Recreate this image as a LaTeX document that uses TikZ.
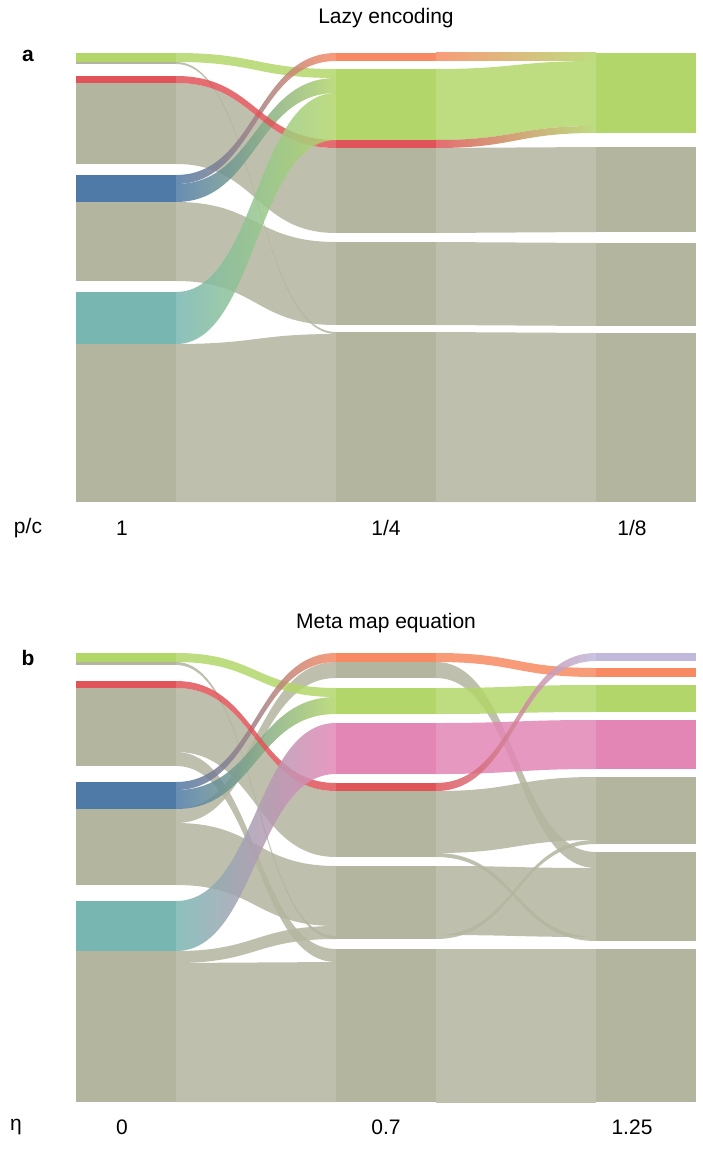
\documentclass[tikz,border=0pt]{standalone}
\usepackage{fontspec}
\setmainfont{Liberation Sans}
\definecolor{gb}{HTML}{B3B59F}
\definecolor{G}{HTML}{B3D66A}
\definecolor{R}{HTML}{E05459}
\definecolor{B}{HTML}{4F79A6}
\definecolor{T}{HTML}{78B6B1}
\definecolor{O}{HTML}{F78A62}
\definecolor{P}{HTML}{E386B5}
\definecolor{L}{HTML}{C0B9DC}
\newcommand\blk[4]{\fill[#4] (#1,#2) rectangle ({#1+100},#3);}
\newcommand\fl[8]{\shade[left color=#7,right color=#8,opacity=.85] (#1,#2) .. controls ({(#1+#4)/2},#2) and ({(#1+#4)/2},#5) .. (#4,#5) -- (#4,#6) .. controls ({(#1+#4)/2},#6) and ({(#1+#4)/2},#3) .. (#1,#3) -- cycle;}
\begin{document}
\begin{tikzpicture}[x=1pt,y=-1pt,lbl/.style={font=\fontsize{21}{25}\selectfont,inner sep=0pt}]
\useasboundingbox (0,0) rectangle (702,1150);
% ---------- panel a
\node[lbl] (ta) at (386,18) {Lazy encoding};
\node[lbl,font=\fontsize{21}{25}\selectfont\bfseries] (la) at (28,56) {a};
\node[lbl] (xa) at (28,528) {p/c};
\node[lbl] (xa1) at (122,528) {1};
\node[lbl] (xa2) at (386,528) {1/4};
\node[lbl] (xa3) at (632,528) {1/8};
\fl{176}{83}{164}{336}{148}{233}{gb}{gb}
\fl{176}{202}{281}{336}{242}{325}{gb}{gb}
\fl{176}{344}{502}{336}{334}{502}{gb}{gb}
\fl{176}{62}{64}{336}{332}{334}{gb}{gb}
\fl{176}{53}{62}{336}{69}{78}{G}{G}
\fl{176}{175}{184}{336}{53}{61}{B}{O}
\fl{176}{184}{202}{336}{78}{93}{B}{G}
\fl{176}{76}{83}{336}{140}{148}{R}{R}
\fl{176}{292}{344}{336}{93}{140}{T}{G}
\fl{436}{148}{233}{596}{147}{232}{gb}{gb}
\fl{436}{242}{325}{596}{243}{326}{gb}{gb}
\fl{436}{332}{502}{596}{333}{502}{gb}{gb}
\fl{436}{53}{61}{596}{53}{61}{O}{G}
\fl{436}{69}{140}{596}{61}{126}{G}{G}
\fl{436}{140}{148}{596}{126}{133}{R}{G}
\blk{76}{53}{62}{G}\blk{76}{62}{64}{gb}\blk{76}{76}{83}{R}\blk{76}{83}{164}{gb}
\blk{76}{175}{202}{B}\blk{76}{202}{281}{gb}\blk{76}{292}{344}{T}\blk{76}{344}{502}{gb}
\blk{336}{53}{61}{O}\blk{336}{69}{140}{G}\blk{336}{140}{148}{R}\blk{336}{148}{233}{gb}
\blk{336}{242}{325}{gb}\blk{336}{332}{502}{gb}
\blk{596}{53}{133}{G}\blk{596}{147}{232}{gb}\blk{596}{243}{326}{gb}\blk{596}{333}{502}{gb}
% ---------- panel b
\node[lbl] (tb) at (386,623) {Meta map equation};
\node[lbl,font=\fontsize{21}{25}\selectfont\bfseries] (lb) at (28,658) {b};
\node[lbl] (xb) at (16,1127) {η};
\node[lbl] (xb1) at (122,1127) {0};
\node[lbl] (xb2) at (386,1127) {0.7};
\node[lbl] (xb3) at (632,1127) {1.25};
\fl{176}{688}{752}{336}{791}{857}{gb}{gb}
\fl{176}{752}{766}{336}{949}{962}{gb}{gb}
\fl{176}{809}{823}{336}{662}{678}{gb}{gb}
\fl{176}{823}{885}{336}{866}{926}{gb}{gb}
\fl{176}{951}{963}{336}{926}{939}{gb}{gb}
\fl{176}{963}{1102}{336}{962}{1102}{gb}{gb}
\fl{176}{662}{665}{336}{936}{939}{gb}{gb}
\fl{176}{653}{662}{336}{688}{697}{G}{G}
\fl{176}{782}{790}{336}{653}{662}{B}{O}
\fl{176}{790}{809}{336}{697}{714}{B}{G}
\fl{176}{681}{688}{336}{783}{791}{R}{R}
\fl{176}{901}{951}{336}{723}{774}{T}{P}
\fl{436}{791}{853}{596}{777}{840}{gb}{gb}
\fl{436}{853}{857}{596}{937}{941}{gb}{gb}
\fl{436}{866}{935}{596}{868}{937}{gb}{gb}
\fl{436}{935}{939}{596}{840}{844}{gb}{gb}
\fl{436}{949}{1102}{596}{949}{1102}{gb}{gb}
\fl{436}{662}{678}{596}{852}{868}{gb}{gb}
\fl{436}{653}{662}{596}{668}{677}{O}{O}
\fl{436}{688}{714}{596}{685}{712}{G}{G}
\fl{436}{723}{774}{596}{720}{769}{P}{P}
\fl{436}{783}{791}{596}{653}{661}{R}{L}
\blk{76}{653}{662}{G}\blk{76}{662}{665}{gb}\blk{76}{681}{688}{R}\blk{76}{688}{766}{gb}
\blk{76}{782}{809}{B}\blk{76}{809}{885}{gb}\blk{76}{901}{951}{T}\blk{76}{951}{1102}{gb}
\blk{336}{653}{662}{O}\blk{336}{662}{678}{gb}\blk{336}{688}{714}{G}\blk{336}{723}{774}{P}
\blk{336}{783}{791}{R}\blk{336}{791}{857}{gb}\blk{336}{866}{939}{gb}\blk{336}{949}{1102}{gb}
\blk{596}{653}{661}{L}\blk{596}{668}{677}{O}\blk{596}{685}{712}{G}\blk{596}{720}{769}{P}
\blk{596}{777}{844}{gb}\blk{596}{852}{941}{gb}\blk{596}{949}{1102}{gb}
\end{tikzpicture}
\end{document}
